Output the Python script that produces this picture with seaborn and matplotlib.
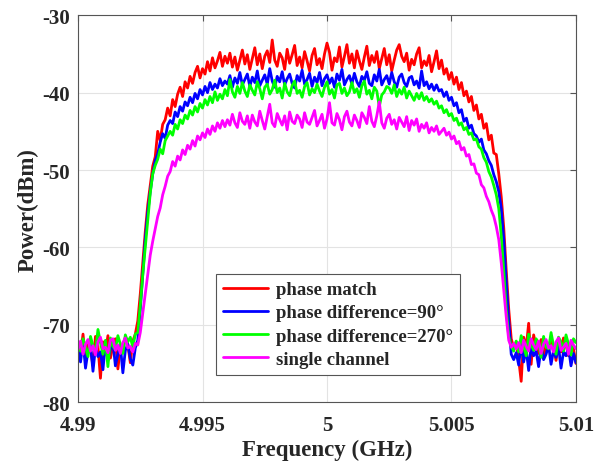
import numpy as np
import pandas as pd
import matplotlib
matplotlib.use("Agg")
import matplotlib.pyplot as plt
import seaborn as sns

# frequency grid (GHz), 0.1 MHz steps from 4.99 to 5.01
freq = np.round(4.99 + np.arange(201) * 1e-4, 4)

phase_match = [
    -72.4, -73.9, -71.2, -74.6, -72.0, -73.2, -75.3, -71.5, -72.8, -76.9, -72.2, -73.6, -71.4, -74.3, -72.7, -71.8, -75.7, -72.9, -73.4, -71.6, -72.6, -74.9, -72.1, -71.2,
    -69.5, -66.0, -62.0, -58.0, -54.5, -52.0, -49.5, -48.3, -45.0, -46.2, -44.1, -43.5, -42.0, -43.0, -40.9, -41.8, -40.2, -39.3, -40.5, -38.6, -39.4, -37.9, -38.8, -37.4, -36.6, -38.1, -36.9, -37.6, -36.0, -37.2, -35.5, -36.8, -35.9, -34.8, -36.6, -35.3,
    -36.2, -34.9, -36.7, -35.4, -37.1, -35.8, -34.5, -36.3, -35.1, -37.0,
    -35.6, -34.2, -36.4, -35.0, -36.9, -35.3, -34.6, -36.1, -33.2, -35.8,
    -36.6, -34.9, -35.5, -37.0, -34.4, -36.2, -35.1, -33.9, -36.5, -35.4,
    -36.8, -34.7, -35.9, -37.2, -35.2, -34.3, -36.4, -35.6, -36.9, -35.0,
    -33.6, -34.8, -37.1, -35.5, -36.0, -34.1, -36.7, -35.3, -33.8, -36.2,
    -35.0, -36.8, -34.6, -35.9, -37.0, -35.4, -34.0, -36.5, -35.2, -36.1,
    -34.7, -36.9, -35.6, -34.3, -36.4, -35.1, -37.2, -35.8, -34.5, -33.8,
    -35.3, -36.0, -34.9, -37.1, -35.7, -36.4, -35.0, -34.2, -36.8, -35.9,
    -36.5, -35.2, -37.3, -36.0, -34.6, -36.9,
    -35.8, -37.6, -36.9, -38.3, -37.4, -38.9, -38.0, -39.6, -38.7, -40.4, -39.8, -41.2, -40.5, -42.3, -41.6, -43.4, -42.8, -44.6, -44.0, -46.1, -45.5, -47.8, -48.0, -50.5, -53.5, -57.5, -63.0, -68.0, -71.8, -73.0,
    -72.2, -74.5, -77.3, -71.6, -73.0, -69.8, -75.1, -71.3, -72.8, -73.7, -71.9, -74.2, -72.5, -73.3, -71.8, -72.9, -74.6, -72.0, -73.5, -71.7, -72.6, -74.0, -72.3, -73.1, -75.0,
]

phase_90 = [
    -73.0, -74.8, -72.1, -75.6, -73.4, -72.6, -76.0, -72.9, -74.1, -73.5, -75.8, -72.4, -74.6, -73.1, -72.2, -75.3, -73.8, -72.7, -76.2, -73.3, -72.5, -74.4, -75.2, -73.0,
    -72.0, -68.0, -63.5, -59.0, -55.5, -52.8, -50.5, -48.8, -47.9, -46.4, -45.3, -45.9, -44.2, -43.6, -44.0, -42.5, -43.1, -41.8, -42.4, -41.2, -41.7, -40.6, -41.3, -40.1, -40.8, -39.6, -40.3, -39.2, -40.0, -38.7, -39.6, -38.9, -39.4, -38.2, -39.1, -38.5,
    -38.9, -37.8, -39.3, -38.1, -38.8, -37.4, -39.0, -38.3, -37.6, -39.2,
    -38.0, -38.7, -37.2, -39.1, -38.4, -37.7, -38.9, -36.9, -38.5, -39.3,
    -37.9, -38.6, -37.3, -39.0, -38.2, -37.6, -38.8, -39.4, -37.8, -38.5,
    -37.1, -38.9, -38.3, -37.5, -39.2, -38.0, -38.7, -37.4, -39.1, -38.2,
    -37.7, -38.8, -38.1, -39.3, -37.6, -38.4, -37.0, -39.0, -38.3, -37.8,
    -38.9, -37.5, -38.6, -39.2, -37.9, -38.4, -37.3, -38.8, -39.1, -37.7,
    -38.5, -37.0, -39.0, -38.3, -37.8, -38.9, -37.4, -38.6, -39.3, -38.0,
    -37.6, -38.7, -39.2, -38.1, -37.9, -39.0, -38.5, -39.4, -37.2, -39.1,
    -38.6, -39.5, -38.9, -39.7, -39.0, -39.8,
    -39.6, -40.5, -39.9, -41.0, -40.6, -41.7, -41.3, -42.6, -42.2, -43.7, -43.3, -44.6, -44.2, -45.3, -45.6, -46.4, -46.0, -47.4, -47.9, -48.8, -49.4, -50.6, -51.5, -52.8, -55.0, -59.0, -64.5, -69.5, -73.8, -74.5,
    -73.6, -75.2, -72.4, -74.8, -73.1, -75.9, -72.7, -74.0, -73.4, -75.4, -72.9, -74.5, -73.8, -72.6, -75.1, -73.3, -74.2, -72.8, -75.6, -73.5, -74.0, -72.9, -75.3, -73.7, -74.9,
]

phase_270 = [
    -72.6, -73.4, -71.8, -72.9, -74.1, -71.5, -72.7, -73.6, -70.6, -72.3, -73.8, -72.0, -75.4, -71.7, -72.8, -73.2, -71.4, -72.5, -73.7, -71.3, -72.2, -71.6, -72.9, -71.2,
    -71.0, -67.5, -63.5, -60.0, -56.5, -53.0, -50.5, -49.4, -48.6, -47.3, -47.9, -46.2, -45.6, -45.0, -45.5, -44.1, -44.7, -43.5, -44.0, -42.9, -43.4, -42.3, -42.9, -41.8, -42.5, -41.4, -42.0, -40.9, -41.6, -40.5, -41.3, -39.9, -41.0, -40.2, -40.8, -39.6,
    -40.4, -38.3, -39.9, -40.6, -39.2, -40.1, -38.7, -39.8, -40.5, -39.0,
    -39.7, -40.3, -38.6, -39.5, -40.8, -39.3, -38.9, -40.2, -39.6, -38.4,
    -40.0, -39.4, -40.7, -38.8, -39.9, -40.4, -39.1, -38.5, -40.1, -39.7,
    -40.6, -39.2, -38.7, -40.3, -39.5, -40.0, -38.9, -39.8, -40.5, -39.3,
    -38.6, -40.2, -39.6, -40.7, -39.0, -38.8, -40.1, -39.4, -40.4, -39.9,
    -38.7, -40.0, -39.5, -40.6, -39.1, -38.5, -40.2, -39.7, -40.8, -39.3,
    -39.8, -41.8, -40.3, -39.9, -39.2, -39.4, -40.1, -39.0, -40.5, -39.6,
    -40.2, -39.3, -40.7, -39.8, -40.4, -41.0, -40.1, -40.8, -40.0, -41.0,
    -40.5, -41.2, -40.8, -41.5, -41.1, -42.0,
    -41.7, -42.6, -42.2, -43.0, -42.7, -43.6, -43.3, -44.2, -43.9, -44.8, -44.5, -45.4, -45.2, -46.1, -46.0, -47.0, -47.3, -48.4, -49.0, -50.2, -50.9, -52.0, -53.2, -55.0, -58.5, -63.0, -68.0, -71.5, -72.8, -73.4,
    -72.1, -73.5, -71.4, -72.8, -74.0, -71.2, -72.6, -73.3, -71.8, -72.4, -74.2, -71.5, -72.9, -73.1, -71.0, -72.7, -73.8, -71.6, -72.2, -73.4, -71.3, -72.5, -73.9, -71.8, -72.3,
]

single_channel = [
    -73.2, -72.1, -73.8, -72.5, -71.9, -73.4, -72.7, -73.9, -72.2, -71.6, -73.1, -72.9, -73.6, -72.0, -71.8, -73.3, -72.6, -73.7, -72.3, -71.7, -73.0, -72.8, -73.5, -72.4,
    -72.6, -71.0, -68.5, -66.0, -63.5, -61.0, -59.2, -57.6, -56.0, -54.9, -53.2, -52.1, -50.8, -50.2, -48.9, -49.5, -48.2, -48.7, -47.4, -48.0, -46.8, -47.3, -46.2, -46.9, -45.6, -46.1, -45.2, -45.8, -44.7, -45.4, -44.3, -45.0, -43.9, -44.6, -43.6, -44.4,
    -43.5, -44.2, -42.8, -43.9, -44.5, -42.6, -43.7, -44.1, -43.0, -44.6,
    -42.9, -43.8, -44.3, -42.4, -43.6, -44.7, -43.1, -41.5, -43.9, -44.4,
    -42.7, -43.5, -44.2, -43.0, -44.8, -42.5, -43.7, -44.0, -42.9, -43.4,
    -44.5, -42.6, -43.8, -44.1, -43.2, -42.3, -44.3, -43.6, -42.8, -44.6,
    -43.4, -41.3, -43.9, -44.2, -42.7, -43.5, -44.8, -43.1, -42.4, -43.8,
    -44.3, -42.9, -43.6, -44.5, -42.6, -43.2, -44.0, -41.8, -43.7, -44.4,
    -43.0, -41.2, -43.9, -44.6, -43.3, -42.8, -44.1, -43.5, -44.7, -43.2,
    -43.8, -44.4, -43.1, -44.9, -43.6, -44.2, -43.4, -45.0, -44.1, -44.6,
    -43.9, -45.2, -44.5, -45.0, -44.3, -45.4,
    -45.0, -44.6, -45.5, -45.1, -46.0, -45.6, -46.6, -46.3, -47.4, -47.1, -48.2, -48.0, -49.3, -49.2, -50.4, -50.6, -51.9, -52.3, -53.4, -54.1, -55.2, -56.0, -57.3, -59.0, -62.0, -65.5, -69.0, -72.0, -72.9, -72.4,
    -73.1, -72.3, -73.6, -72.0, -72.8, -73.4, -71.8, -72.6, -73.2, -72.1, -73.7, -72.5, -71.9, -73.0, -72.7, -73.5, -72.2, -71.7, -73.3, -72.9, -72.4, -73.8, -72.0, -72.6, -73.1,
]

labels = ["phase match", "phase difference=90°", "phase difference=270°", "single channel"]
colors = ["#ff0000", "#0000ff", "#00ff00", "#ff00ff"]
series = [phase_match, phase_90, phase_270, single_channel]

x_ticks = [4.99, 4.995, 5.0, 5.005, 5.01]
x_ticklabels = ["4.99", "4.995", "5", "5.005", "5.01"]
y_ticks = [-80, -70, -60, -50, -40, -30]
y_ticklabels = ["-80", "-70", "-60", "-50", "-40", "-30"]

sns.set_style("whitegrid", {"grid.color": "#e3e3e3", "axes.edgecolor": "#555555"})
plt.rcParams["font.family"] = ["Liberation Serif", "DejaVu Serif"]
plt.rcParams["font.weight"] = "bold"

fig = plt.figure(figsize=(6.05, 4.64), dpi=100)
ax = fig.add_axes([0.129, 0.131, 0.823, 0.834])

for vals, lab, col in zip(series, labels, colors):
    df = pd.DataFrame({"freq": freq, "power": vals})
    sns.lineplot(data=df, x="freq", y="power", color=col, linewidth=2, label=lab, ax=ax)

ax.set_xlim(4.99, 5.01)
ax.set_ylim(-80, -30)
ax.set_xticks(x_ticks)
ax.set_xticklabels(x_ticklabels)
ax.set_yticks(y_ticks)
ax.set_yticklabels(y_ticklabels)
ax.tick_params(direction="in", top=True, right=True, length=4, width=0.8,
               labelsize=15, color="#555555")
ax.tick_params(axis="x", pad=9)
ax.tick_params(axis="y", pad=6)
for lbl in ax.get_xticklabels() + ax.get_yticklabels():
    lbl.set_fontweight("bold")
for sp in ax.spines.values():
    sp.set_linewidth(0.8)
    sp.set_color("#555555")

ax.set_xlabel("Frequency (GHz)", fontsize=16.5, fontweight="bold", labelpad=3)
ax.set_ylabel("Power(dBm)", fontsize=16.5, fontweight="bold", labelpad=2)

leg = ax.legend(loc="lower left", bbox_to_anchor=(0.277, 0.07), borderaxespad=0,
                prop={"weight": "bold", "size": 13.5}, handlelength=2.4,
                labelspacing=0.32, fancybox=False, framealpha=1,
                edgecolor="#555555", borderpad=0.4, handletextpad=0.4)
leg.get_frame().set_linewidth(0.8)
for h in leg.get_lines():
    h.set_linewidth(2)

fig.savefig("out.png", dpi=100)
